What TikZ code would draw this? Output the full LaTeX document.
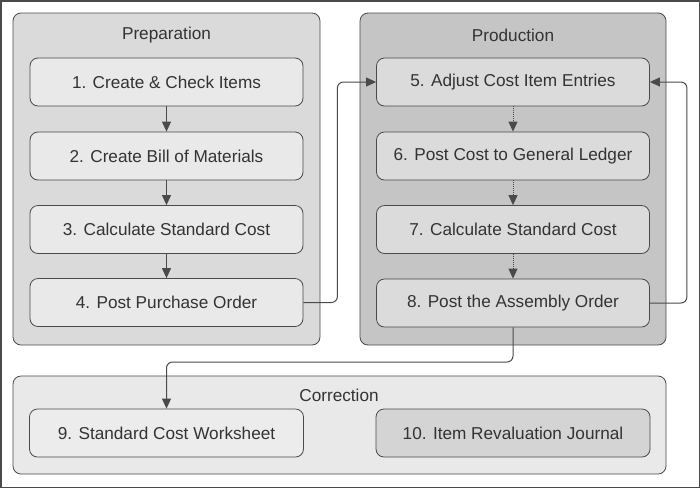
\documentclass[tikz,border=0pt]{standalone}
\usepackage{fontspec}
\setmainfont{Liberation Sans}
\usetikzlibrary{arrows.meta}
\definecolor{lnc}{HTML}{4A4A4A}
\definecolor{txc}{HTML}{333333}
\definecolor{prepg}{HTML}{DADADA}
\definecolor{prepb}{HTML}{E9E9E9}
\definecolor{prodg}{HTML}{C5C5C5}
\definecolor{prodb}{HTML}{DBDBDB}
\definecolor{corrg}{HTML}{E9E9E9}
\definecolor{corrb}{HTML}{ECECEC}
\definecolor{corrd}{HTML}{D4D4D4}
\begin{document}
\begin{tikzpicture}[x=1pt,y=-1pt,
  grp/.style={draw=lnc, line width=0.8pt, rounded corners=8pt},
  box/.style={draw=lnc, line width=0.8pt, rounded corners=8pt, minimum width=273pt, minimum height=48pt, inner sep=0pt, text=txc, font=\fontsize{17.2}{20}\selectfont},
  ttl/.style={text=txc, inner sep=0pt, font=\fontsize{17.2}{20}\selectfont},
  arr/.style={draw=lnc, line width=1pt, -{Triangle[length=10pt,width=9pt]}},
  darr/.style={arr, densely dotted}
]
\useasboundingbox (0,0) rectangle (700,488);
\draw[draw=lnc, line width=1.5pt] (0.75,0.75) rectangle (699.25,487.25);
% groups
\path[grp, fill=prepg] (13,13) rectangle (320,345);
\path[grp, fill=prodg] (360,13) rectangle (666,345);
\path[grp, fill=corrg] (13,376) rectangle (666,474);
\node[ttl] (tprep) at (166.5,35) {Preparation};
\node[ttl] (tprod) at (513,35) {Production};
\node[ttl] (tcorr) at (339,395) {Correction};
% boxes
\node[box, fill=prepb] (b1) at (166.5,82) {1. Create \& Check Items};
\node[box, fill=prepb] (b2) at (166.5,156) {2. Create Bill of Materials};
\node[box, fill=prepb] (b3) at (166.5,229.5) {3. Calculate Standard Cost};
\node[box, fill=prepb] (b4) at (166.5,302.5) {4. Post Purchase Order};
\node[box, fill=prodb] (b5) at (513,82) {5. Adjust Cost Item Entries};
\node[box, fill=prodb] (b6) at (513,156) {6. Post Cost to General Ledger};
\node[box, fill=prodb] (b7) at (513,229.5) {7. Calculate Standard Cost};
\node[box, fill=prodb] (b8) at (513,303) {8. Post the Assembly Order};
\node[box, fill=corrb, minimum width=274pt] (b9) at (166.5,433) {9. Standard Cost Worksheet};
\node[box, fill=corrd, minimum width=274pt] (b10) at (513,433) {10. Item Revaluation Journal};
% connectors
\draw[arr] (b1) -- (b2);
\draw[arr] (b2) -- (b3);
\draw[arr] (b3) -- (b4);
\draw[darr] (b5) -- (b6);
\draw[darr] (b6) -- (b7);
\draw[darr] (b7) -- (b8);
\draw[arr, rounded corners=6pt] (b4.east) -- ++(34,0) |- (b5.west);
\draw[arr, rounded corners=6pt] (b8.east) -- ++(37,0) |- (b5.east);
\draw[arr, rounded corners=6pt] (b8.south) -- (b8.south |- 0,362) -| (b9.north);
\end{tikzpicture}
\end{document}
